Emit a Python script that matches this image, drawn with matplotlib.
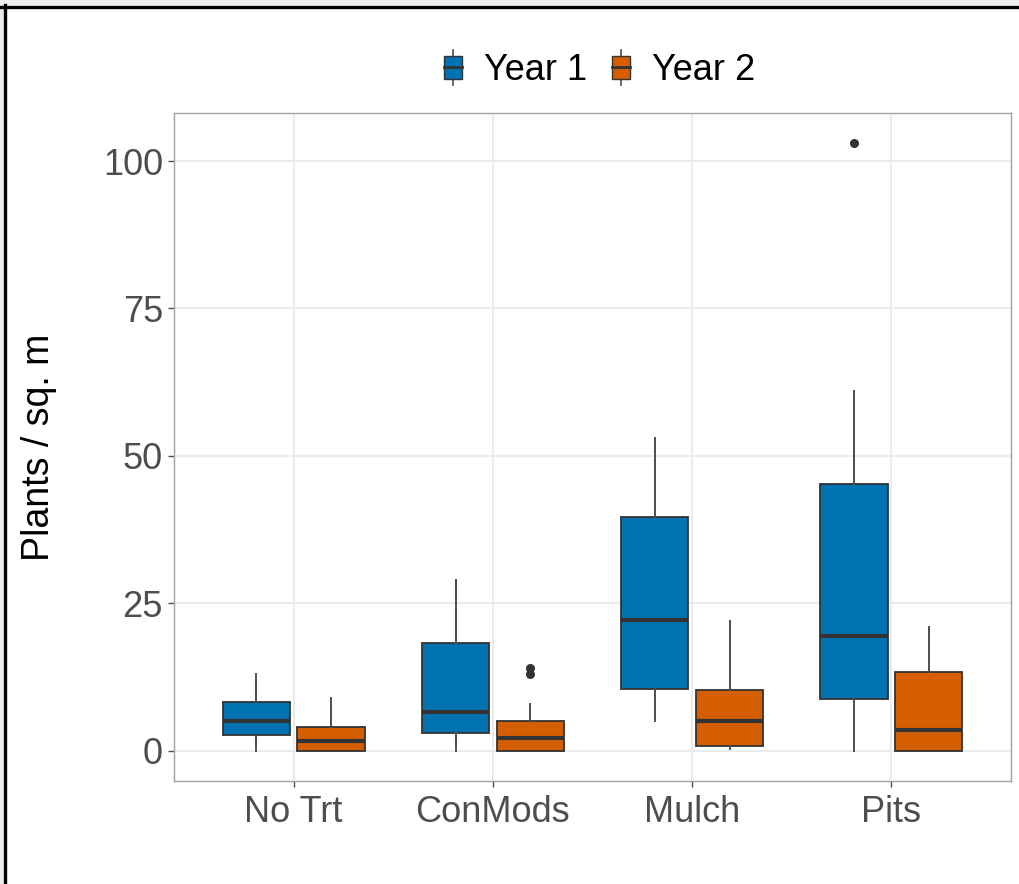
import matplotlib
matplotlib.use("Agg")
import matplotlib.pyplot as plt
from matplotlib.patches import Patch, Rectangle
from matplotlib.lines import Line2D
from matplotlib.legend_handler import HandlerBase

plt.rcParams['font.family'] = ['Liberation Sans', 'DejaVu Sans']

treatments = ['No Trt', 'ConMods', 'Mulch', 'Pits']
years = ['Year 1', 'Year 2']
year_colors = ['#0072B2', '#D55E00']

# five-number summaries per treatment: (whislo, q1, med, q3, whishi)
year1_stats = [
    (0.0, 2.7, 5.1, 8.3, 13.0),
    (0.0, 3.0, 6.6, 18.2, 29.0),
    (5.1, 10.5, 22.1, 39.6, 53.0),
    (0.0, 8.8, 19.5, 45.3, 61.0),
]
year2_stats = [
    (0.0, 0.0, 1.6, 4.0, 9.0),
    (0.0, 0.0, 2.1, 5.1, 7.9),
    (0.2, 0.8, 5.1, 10.3, 22.0),
    (0.0, 0.0, 3.5, 13.3, 21.0),
]
year1_outliers = [[], [], [], [103.0]]
year2_outliers = [[], [14.0, 13.0], [], []]

y_ticks = [0, 25, 50, 75, 100]

edge = '#333333'
grid_col = '#ebebeb'
tick_col = '#4d4d4d'


class BoxKey(HandlerBase):
    """Legend key drawn as a tiny boxplot glyph."""
    def create_artists(self, legend, orig, xdescent, ydescent, width, height,
                       fontsize, trans):
        cx = -xdescent + width / 2
        y0 = -ydescent
        bw = width
        whisk = Line2D([cx, cx], [y0 - 0.28 * height, y0 + 1.28 * height],
                       color=tick_col, lw=1.2, transform=trans)
        box = Rectangle((cx - bw / 2, y0), bw, height,
                        facecolor=orig.get_facecolor(), edgecolor=edge,
                        lw=1.0, transform=trans)
        med = Line2D([cx - bw / 2, cx + bw / 2], [y0 + height / 2] * 2,
                     color=edge, lw=2.0, transform=trans)
        return [whisk, box, med]


fig = plt.figure(figsize=(10.2, 8.84), dpi=100)
ax = fig.add_axes([0.1706, 0.1165, 0.8206, 0.7557])

offset = 0.1875
width = 0.3375
series = [(year1_stats, year1_outliers, -offset), (year2_stats, year2_outliers, offset)]
for (stats_list, outl, dx), color in zip(series, year_colors):
    stats = []
    for (lo, q1, med, q3, hi), fl in zip(stats_list, outl):
        stats.append(dict(whislo=lo, q1=q1, med=med, q3=q3, whishi=hi, fliers=fl))
    pos = [i + 1 + dx for i in range(len(treatments))]
    ax.bxp(stats, positions=pos, widths=width, patch_artist=True, showcaps=False,
           boxprops=dict(facecolor=color, edgecolor=edge, lw=1.3),
           medianprops=dict(color=edge, lw=3.0),
           whiskerprops=dict(color=tick_col, lw=1.4),
           flierprops=dict(marker='o', markerfacecolor=edge, markeredgecolor=edge,
                           markersize=5.5),
           zorder=3)

ax.set_xlim(0.4, len(treatments) + 0.6)
ax.set_ylim(-5.15, 108.15)
ax.set_xticks(range(1, len(treatments) + 1))
ax.set_xticklabels(treatments)
ax.set_yticks(y_ticks)
ax.set_yticklabels([str(v) for v in y_ticks])
ax.tick_params(axis='both', labelsize=26, colors=tick_col, length=4, width=1.0,
               labelcolor=tick_col)
ax.tick_params(axis='x', pad=6)
ax.tick_params(axis='y', pad=4)
ax.grid(True, color=grid_col, lw=1.5, zorder=0)
ax.set_axisbelow(True)
for sp in ax.spines.values():
    sp.set_color('#a0a0a0')
    sp.set_linewidth(1.0)

ax.set_ylabel('Plants / sq. m', fontsize=27, color='black', labelpad=33)

handles = [Patch(facecolor=c, label=y) for c, y in zip(year_colors, years)]
fig.legend(handles=handles, loc='center', bbox_to_anchor=(0.588, 0.920), ncol=2,
           frameon=False, fontsize=26, handler_map={Patch: BoxKey()},
           handlelength=0.5, handleheight=0.6, handletextpad=0.6,
           columnspacing=0.7)

# page frame: thin grey strips outside a black border on the top and left
fig.patches.append(Rectangle((0, 1 - 5 / 884), 1, 5 / 884, transform=fig.transFigure,
                             facecolor='#eef0f3', edgecolor='none'))
fig.patches.append(Rectangle((0, 0), 4 / 1020, 1, transform=fig.transFigure,
                             facecolor='#f2ece7', edgecolor='none'))
fig.add_artist(Line2D([0, 1], [1 - 6.5 / 884] * 2, transform=fig.transFigure,
                      color='black', lw=2.4))
fig.add_artist(Line2D([5.5 / 1020] * 2, [0, 1 - 5 / 884], transform=fig.transFigure,
                      color='black', lw=2.4))

fig.savefig('out.png', dpi=100)
